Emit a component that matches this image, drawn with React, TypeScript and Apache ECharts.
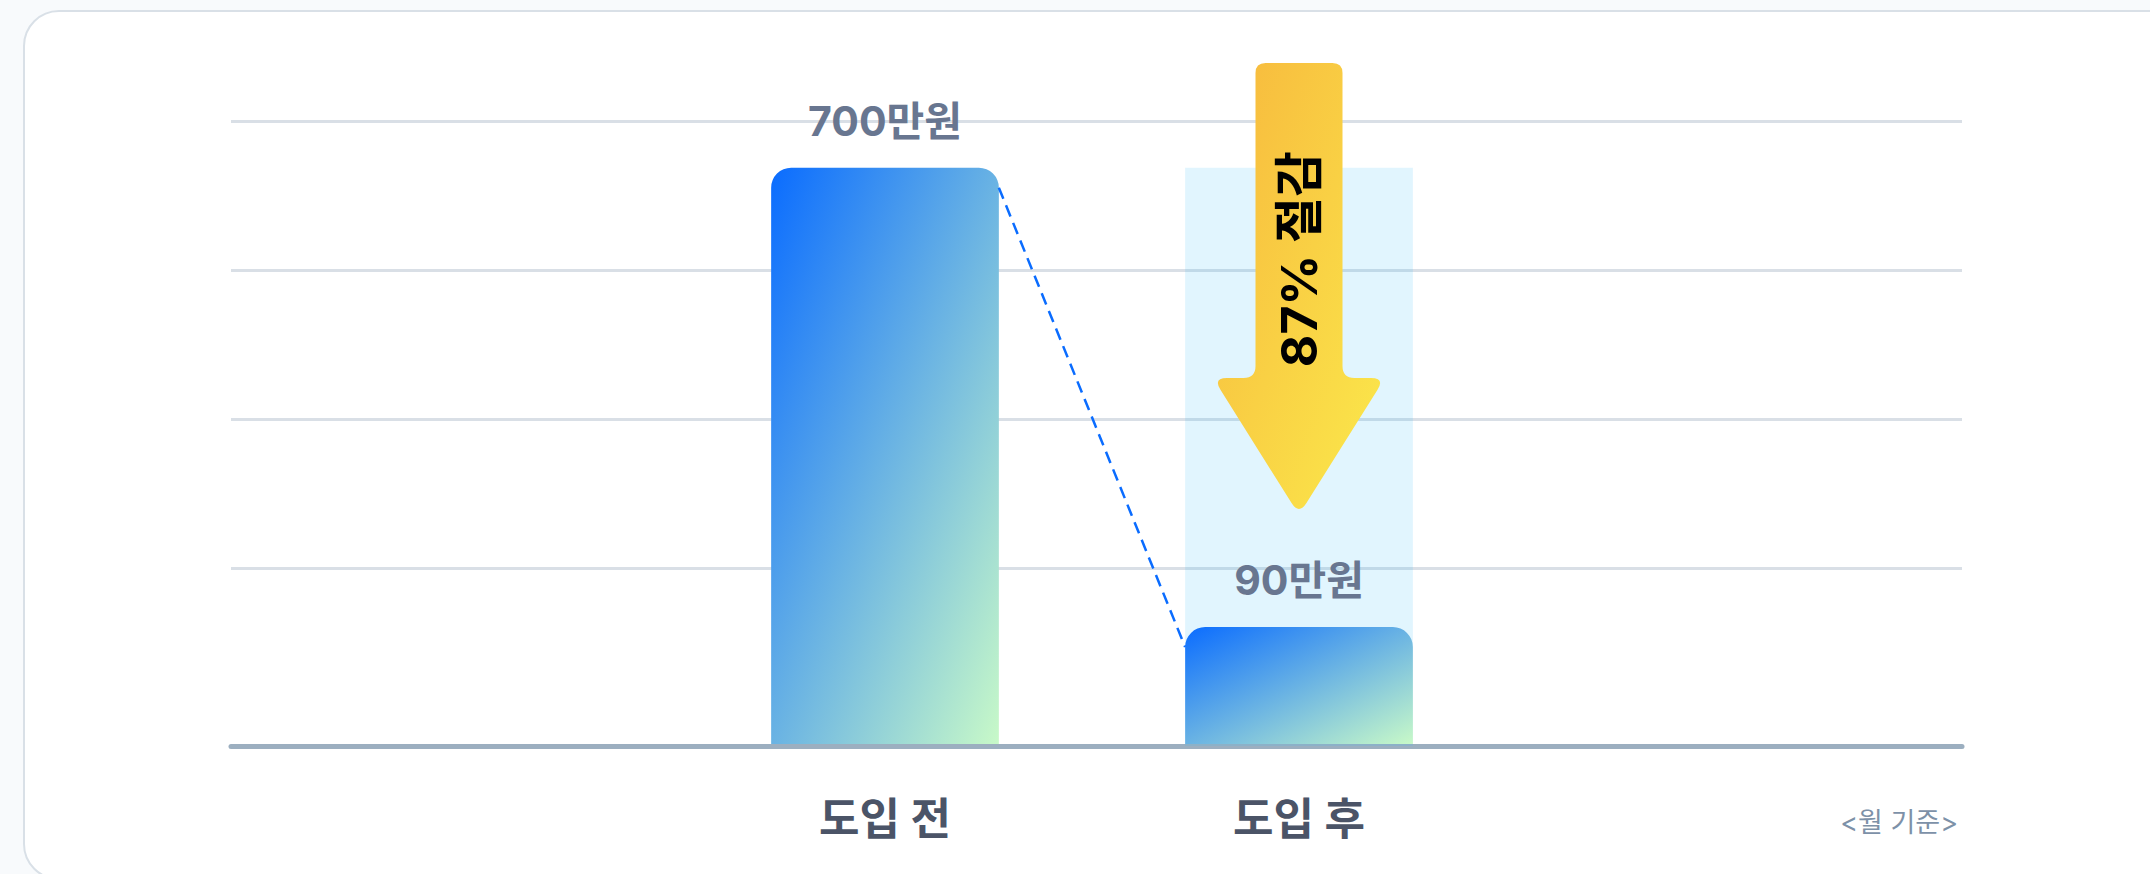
import React, { useEffect, useRef } from 'react';
import * as echarts from 'echarts';

// ---- data ----
const categories = ['도입 전', '도입 후'];
const costs = [700, 90]; // 만원 / 월
const unitSuffix = '만원';
const unitNote = '<월 기준>';
const gridLevels = [0, 1, 2, 3, 4];

// value axis range for the bars (axis bottom sits below zero)
const Y_MIN = -68;
const Y_MAX = 762;

const FONT = 'Inter, "Noto Sans CJK KR", "Noto Sans", sans-serif';

const ARROW_PATH =
  'M -43.5 10 Q -43.5 0 -33.5 0 L 33.5 0 Q 43.5 0 43.5 10 L 43.5 303 Q 43.5 315 55.5 315 L 72 315 Q 86 315 78.55 326.86 L 7.45 440.1 Q 0 452 -7.45 440.1 L -78.55 326.86 Q -86 315 -72 315 L -55.5 315 Q -43.5 315 -43.5 303 Z';

echarts.graphic.registerShape('saveArrow', echarts.graphic.extendPath(ARROW_PATH, {}));

const savingPct = Math.round((1 - costs[1] / costs[0]) * 100);

export default function App() {
  const ref = useRef<HTMLDivElement>(null);

  useEffect(() => {
    const chart = echarts.init(ref.current as HTMLDivElement, undefined, {
      renderer: 'svg',
      width: 2150,
      height: 874,
    });

    const barGradient = () =>
      new echarts.graphic.LinearGradient(0, 0, 1, 1, [
        { offset: 0, color: '#0a6cff' },
        { offset: 1, color: '#c8f9c8' },
      ]);

    const option: any = {
      animation: false,
      textStyle: { fontFamily: FONT },
      grid: [
        { left: 678, right: 644, top: 121, bottom: 128 },
        { left: 231, right: 188, top: 121, bottom: 157 },
      ],
      xAxis: [
        {
          gridIndex: 0,
          type: 'category',
          data: categories,
          axisLine: { show: false },
          axisTick: { show: false },
          splitLine: { show: false },
          axisLabel: {
            margin: 51,
            fontSize: 44,
            fontWeight: 'bold',
            color: '#4b5467',
            fontFamily: FONT,
          },
        },
        {
          gridIndex: 1,
          type: 'value',
          min: 0,
          max: 1,
          offset: 29.5,
          axisLine: { show: true, onZero: false, lineStyle: { color: '#9cafc0', width: 5 } },
          axisTick: { show: false },
          axisLabel: { show: false },
          splitLine: { show: false },
        },
      ],
      yAxis: [
        { gridIndex: 0, type: 'value', min: Y_MIN, max: Y_MAX, show: false },
        {
          gridIndex: 1,
          type: 'value',
          min: gridLevels[0],
          max: gridLevels[gridLevels.length - 1],
          interval: 1,
          axisLine: { show: false },
          axisTick: { show: false },
          axisLabel: { show: false },
          splitLine: {
            show: true,
            showMinLine: false,
            lineStyle: { color: '#d9dfe6', width: 3 },
          },
        },
      ],
      series: [
        {
          type: 'custom',
          xAxisIndex: 0,
          yAxisIndex: 0,
          data: costs.map((v, i) => [i, v]),
          renderItem: (params: any, api: any) => {
            const idx = api.value(0);
            const v = api.value(1);
            const top = api.coord([idx, v]);
            const base = api.coord([idx, Y_MIN]);
            const band = api.size([1, 0])[0];
            const w = band * 0.55;
            const x0 = top[0] - w / 2;
            const children: any[] = [];
            if (params.dataIndex > 0) {
              const refTop = api.coord([idx, costs[0]]);
              children.push({
                type: 'rect',
                shape: { x: x0, y: refTop[1], width: w, height: base[1] - refTop[1] },
                style: { fill: 'rgba(56,189,248,0.15)' },
              });
              const prevTop = api.coord([idx - 1, costs[params.dataIndex - 1]]);
              children.push({
                type: 'line',
                shape: {
                  x1: prevTop[0] + w / 2,
                  y1: prevTop[1] + 20,
                  x2: x0,
                  y2: top[1] + 20,
                },
                style: { stroke: '#0a6cff', lineWidth: 2.5, lineDash: [12, 7], fill: null },
              });
            }
            children.push({
              type: 'rect',
              shape: { x: x0, y: top[1], width: w, height: base[1] - 2 - top[1], r: [20, 20, 0, 0] },
              style: { fill: barGradient() },
            });
            children.push({
              type: 'text',
              style: {
                text: `${v}${unitSuffix}`,
                x: top[0],
                y: top[1] - 47,
                align: 'center',
                textAlign: 'center',
                verticalAlign: 'middle',
                textVerticalAlign: 'middle',
                font: `bold 41px ${FONT}`,
                fill: '#687690',
              },
            });
            return { type: 'group', children };
          },
        },
      ],
    };

    chart.setOption(option);

    const cx = chart.convertToPixel({ xAxisIndex: 0 } as any, categories[1]) as number;
    const gridRight = 2150 - 188;

    chart.setOption({
      graphic: [
        {
          type: 'saveArrow',
          x: cx,
          y: 63,
          z: 10,
          style: {
            fill: new echarts.graphic.LinearGradient(0, 0, 1, 1, [
              { offset: 0, color: '#f7b83d' },
              { offset: 1, color: '#fbe94b' },
            ]),
          },
        },
        {
          type: 'text',
          x: cx,
          y: 259,
          rotation: Math.PI / 2,
          z: 11,
          style: {
            text: `${savingPct}% 절감`,
            align: 'center',
            textAlign: 'center',
            verticalAlign: 'middle',
            textVerticalAlign: 'middle',
            font: `bold 50px ${FONT}`,
            fill: '#000000',
          },
        },
        {
          type: 'text',
          x: gridRight - 4,
          y: 822,
          z: 11,
          style: {
            text: unitNote,
            align: 'right',
            textAlign: 'right',
            verticalAlign: 'middle',
            textVerticalAlign: 'middle',
            font: `27px ${FONT}`,
            fill: '#7d91a8',
          },
        },
      ],
    });

    return () => chart.dispose();
  }, []);

  return (
    <div
      style={{
        position: 'fixed',
        left: 0,
        top: 0,
        width: 2150,
        height: 874,
        background: '#f8fafc',
        overflow: 'hidden',
      }}
    >
      <div
        style={{
          position: 'absolute',
          left: 23,
          top: 10,
          width: 2200,
          height: 870,
          background: '#ffffff',
          border: '2px solid #d9e0e7',
          borderRadius: 36,
          boxSizing: 'border-box',
        }}
      />
      <div ref={ref} style={{ position: 'absolute', left: 0, top: 0, width: 2150, height: 874 }} />
    </div>
  );
}
